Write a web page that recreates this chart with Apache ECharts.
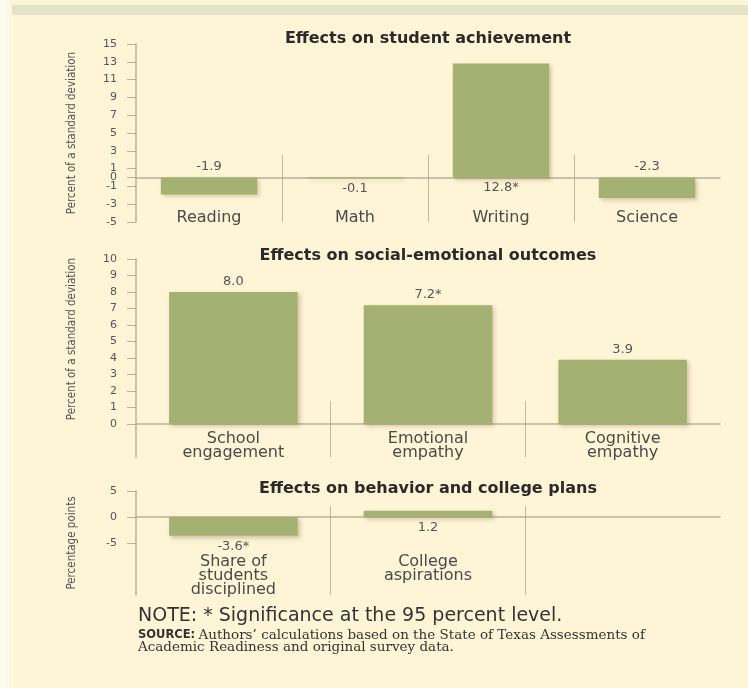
<!DOCTYPE html>
<html><head><meta charset="utf-8">
<script src="https://cdn.jsdelivr.net/npm/echarts@6/dist/echarts.min.js"></script>
<style>html,body{margin:0;padding:0;background:#fef4d6}#c{width:748px;height:688px}</style>
</head><body><div id="c"></div>
<script>
// ---- data ----
const achievementCategories = ['Reading', 'Math', 'Writing', 'Science'];
const achievementValues = [-1.9, -0.1, 12.8, -2.3];
const achievementSignificant = [false, false, true, false];
const achievementTicks = [-5, -3, -1, 0, 1, 3, 5, 7, 9, 11, 13, 15];

const socialCategories = ['School\nengagement', 'Emotional\nempathy', 'Cognitive\nempathy'];
const socialValues = [8.0, 7.2, 3.9];
const socialSignificant = [false, true, false];
const socialTicks = [0, 1, 2, 3, 4, 5, 6, 7, 8, 9, 10];

const behaviorCategories = ['Share of\nstudents\ndisciplined', 'College\naspirations'];
const behaviorValues = [-3.6, 1.2];
const behaviorSignificant = [true, false];
const behaviorTicks = [-5, 0, 5];

// ---- style / layout ----
const BAR = '#a3b273';
const AXIS = '#b8b09c';
const SEP = '#bfb7a2';
const TXT = '#4a4a4a';
const SANS = '"DejaVu Sans", "Noto Sans", sans-serif';
const NARROW = '"Liberation Sans Narrow", "DejaVu Sans Condensed", sans-serif';

const panels = [
  { cats: achievementCategories, vals: achievementValues, sig: achievementSignificant, ticks: achievementTicks,
    title: 'Effects on student achievement', titleY: 39,
    name: 'Percent of a standard deviation', namePad: 0,
    top: 44, height: 178, min: -5, max: 15, catMax: null,
    stripTop: 155, stripH: 67, labelMargin: -12, lineHeight: 15,
    labelPos: ['top', 'bottom', 'bottom', 'top'] },
  { cats: socialCategories, vals: socialValues, sig: socialSignificant, ticks: socialTicks,
    title: 'Effects on social-emotional outcomes', titleY: 256,
    name: 'Percent of a standard deviation', namePad: 38,
    top: 259, height: 198, min: -2, max: 10, catMax: null,
    stripTop: 401, stripH: 56, labelMargin: -25, lineHeight: 14,
    labelPos: ['top', 'top', 'top'] },
  { cats: behaviorCategories, vals: behaviorValues, sig: behaviorSignificant, ticks: behaviorTicks,
    title: 'Effects on behavior and college plans', titleY: 489,
    name: 'Percentage points', namePad: 0,
    top: 491, height: 104, min: -15, max: 5, catMax: 2,
    stripTop: 506, stripH: 89, labelMargin: -40, lineHeight: 14,
    labelPos: ['bottom', 'bottom'] }
];

const grid = [], xAxis = [], yAxis = [], series = [], graphic = [];

graphic.push({ type: 'rect', z: -10, shape: { x: 0, y: 0, width: 9, height: 688 }, style: { fill: '#fffbee' } });
graphic.push({ type: 'rect', z: -10, shape: { x: 12, y: 5, width: 736, height: 10 }, style: { fill: '#e2e3c9' } });

panels.forEach((p, i) => {
  const g = i * 2;
  grid.push({ left: 136, right: 28, top: p.top, height: p.height });
  grid.push({ left: 136, right: 28, top: p.stripTop, height: p.stripH });

  const catFormatter = function (v) { return p.cats.indexOf(v) >= 0 ? v : ''; };
  xAxis.push({
    type: 'category', gridIndex: g, data: p.cats, max: p.catMax === null ? undefined : p.catMax,
    axisLine: { onZero: true, lineStyle: { color: AXIS, width: 1.5 } },
    axisTick: { show: false },
    axisLabel: { margin: p.labelMargin, color: TXT, fontFamily: SANS, fontSize: 16, lineHeight: p.lineHeight, formatter: catFormatter, interval: 0 },
    splitLine: { show: false }
  });
  xAxis.push({
    type: 'category', gridIndex: g + 1, data: p.cats, max: p.catMax === null ? undefined : p.catMax,
    axisLine: { show: false }, axisTick: { show: false }, axisLabel: { show: false },
    splitLine: { show: true, showMinLine: false, showMaxLine: false, lineStyle: { color: SEP, width: 1 } }
  });

  yAxis.push({
    type: 'value', gridIndex: g, min: p.min, max: p.max,
    name: p.name, nameLocation: 'middle', nameGap: 58,
    nameTextStyle: { fontFamily: NARROW, fontSize: 11.5, color: '#555', padding: [0, 0, 0, p.namePad] },
    axisLine: { show: true, lineStyle: { color: AXIS, width: 1.5 } },
    axisTick: { show: true, length: 9, customValues: p.ticks, lineStyle: { color: AXIS } },
    axisLabel: { customValues: p.ticks, margin: 19, color: '#555', fontFamily: SANS, fontSize: 11 },
    splitLine: { show: false }
  });
  yAxis.push({ type: 'value', gridIndex: g + 1, min: 0, max: 1, show: false });

  series.push({
    type: 'bar', xAxisIndex: g, yAxisIndex: g, barWidth: '66%',
    data: p.vals.map((v, k) => ({ value: v, label: { position: p.labelPos[k] } })),
    itemStyle: { color: BAR, shadowBlur: 4, shadowColor: 'rgba(90,70,30,0.28)', shadowOffsetX: 2, shadowOffsetY: 2 },
    label: {
      show: true, distance: 4, color: '#555', fontFamily: SANS, fontSize: 13,
      formatter: (params) => params.value.toFixed(1) + (p.sig[params.dataIndex] ? '*' : '')
    },
    silent: true, animation: false
  });

  graphic.push({ type: 'text', x: 428, y: p.titleY, style: { text: p.title, align: 'center', verticalAlign: 'middle', font: 'bold 16px ' + SANS, fill: '#2a2a2a' } });
});

graphic.push({ type: 'text', x: 138, y: 616, style: { text: 'NOTE: * Significance at the 95 percent level.', verticalAlign: 'middle', font: '19px ' + SANS, fill: '#333' } });
graphic.push({ type: 'text', x: 138, y: 641, style: {
  text: '{b|SOURCE:} {s|Authors\u2019 calculations based on the State of Texas Assessments of}\n{s|Academic Readiness and original survey data.}',
  verticalAlign: 'middle', lineHeight: 12,
  rich: {
    b: { fontFamily: SANS, fontWeight: 'bold', fontSize: 11.5, fill: '#333', lineHeight: 12 },
    s: { fontFamily: '"DejaVu Serif", serif', fontSize: 13.5, fill: '#333', lineHeight: 12 }
  }
} });

const chart = echarts.init(document.getElementById('c'));
chart.setOption({ backgroundColor: '#fef4d6', animation: false, grid, xAxis, yAxis, series, graphic });
</script></body></html>
